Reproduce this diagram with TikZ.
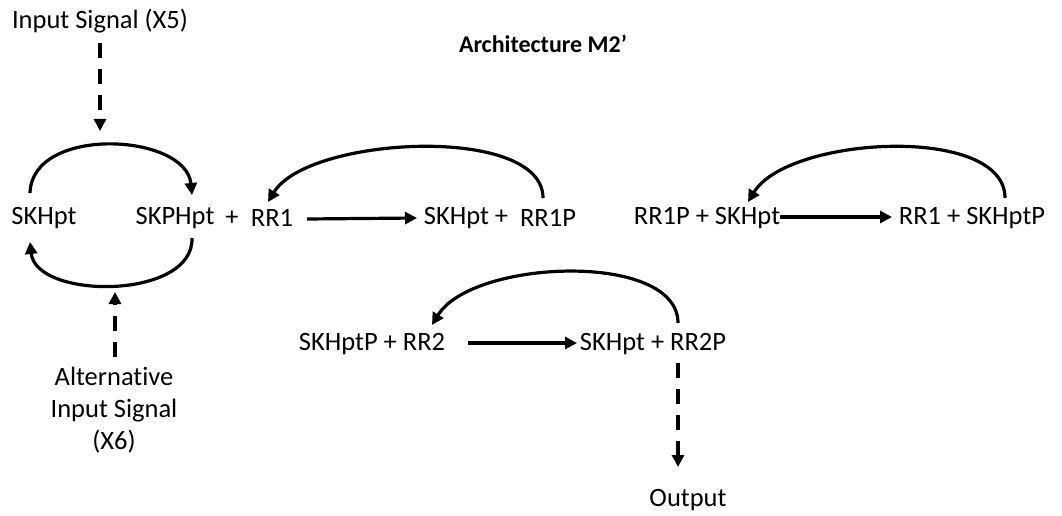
\documentclass[tikz,border=0pt]{standalone}
\usepackage{fontspec}
\setmainfont{Carlito}[Ligatures=NoCommon]
\usetikzlibrary{arrows.meta,calc}
\begin{document}
\begin{tikzpicture}[x=1pt,y=-1pt,
  lbl/.style={inner sep=0pt,font=\fontsize{26.5}{32}\selectfont},
  arr/.style={line width=3.2pt,-{Triangle[length=12pt,width=12pt]}},
  darr/.style={line width=3.2pt,dash pattern=on 15pt off 11pt,-{Triangle[length=12pt,width=12pt]}}]
\useasboundingbox (0,0) rectangle (1062,516);
% title
\node[lbl,font=\fontsize{24}{28}\selectfont\bfseries] (title) at (543,44) {Architecture M2’};
% signals
\node[lbl] (in) at (100,21) {Input Signal (X5)};
\coordinate (intip) at (100,131);
\node[lbl,align=center] (alt) at (114,410) {Alternative\\Input Signal\\(X6)};
\coordinate (alttip) at (115,292);
% first row
\node[lbl] (sk) at (44,218) {SKHpt};
\node[lbl] (skp) at (175,218) {SKPHpt};
\node[lbl] (pl) at (232,218) {+};
\node[lbl] (rr1) at (272,218) {RR1};
\node[lbl] (skb) at (466,218) {SKHpt +};
\node[lbl] (rr1p) at (548,218) {RR1P};
\node[lbl] (lhs) at (707,218) {RR1P + SKHpt};
\node[lbl] (rhs) at (972,218) {RR1 + SKHptP};
% second row
\node[lbl] (lo) at (372,344) {SKHptP + RR2};
\node[lbl] (ro) at (653,344) {SKHpt + RR2P};
\node[lbl] (out) at (688,500) {Output};
% kinase loop
\draw[arr] ($(sk.center)+(-14,-25)$) .. controls +(2,-68) and +(-6,-62) .. ($(skp.center)+(17,-23)$);
\draw[arr] ($(skp.center)+(17,20)$) .. controls +(2,62) and +(6,58) .. ($(sk.center)+(-14,24)$);
\draw[darr] ($(in.center)+(0,22)$) -- (intip);
\draw[darr] ($(alt.center)+(1,-53)$) -- (alttip);
% phosphotransfer to RR1
\draw[arr] ($(rr1.center)+(35,1)$) -- ($(skb.center)+(-49,0)$);
\draw[arr] ($(rr1p.center)+(-5,-20)$) .. controls +(0,-74) and +(40,-66) .. ($(rr1.center)+(-4,-16)$);
% reverse transfer
\draw[arr] ($(lhs.center)+(73,-1)$) -- ($(rhs.center)+(-80,-1)$);
\draw[arr] ($(rhs.center)+(33,-20)$) .. controls +(0,-74) and +(40,-66) .. ($(lhs.center)+(41,-16)$);
% transfer to RR2
\draw[arr] ($(lo.center)+(96,-1)$) -- ($(ro.center)+(-76,-1)$);
\draw[arr] ($(ro.center)+(25,-21)$) .. controls +(0,-72) and +(40,-66) .. ($(lo.center)+(60,-19)$);
\draw[darr] ($(ro.center)+(25,19)$) -- ($(out.center)+(-10,-33)$);
\end{tikzpicture}
\end{document}
